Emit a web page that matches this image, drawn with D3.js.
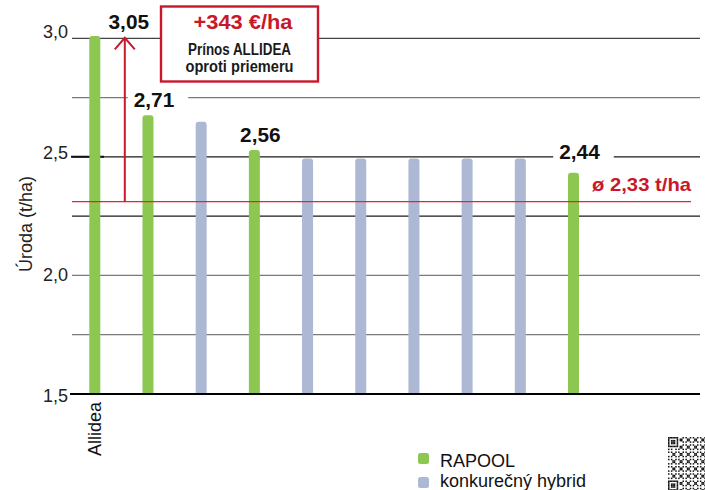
<!DOCTYPE html>
<html><head><meta charset="utf-8">
<script src="https://cdn.jsdelivr.net/npm/d3@7"></script>
<style>html,body{margin:0;padding:0;background:#fff;overflow:hidden}</style>
</head><body>
<svg id="c" width="705" height="490"></svg>
<script>
// ---- data ----
const categories = ["Allidea","RAPOOL 2","hybrid 1","RAPOOL 3","hybrid 2","hybrid 3","hybrid 4","hybrid 5","hybrid 6","RAPOOL 4"];
const seriesOf = ["RAPOOL","RAPOOL","konkurečný hybrid","RAPOOL","konkurečný hybrid","konkurečný hybrid","konkurečný hybrid","konkurečný hybrid","konkurečný hybrid","RAPOOL"];
const yields = [3.01, 2.675, 2.648, 2.529, 2.493, 2.493, 2.493, 2.493, 2.493, 2.433];
const valueLabels = ["3,05","2,71","","2,56","","","","","","2,44"];
const axisLabels = ["Allidea","","","","","","","","",""];
const yTicks = [1.5, 2.0, 2.5, 3.0];
const yTickLabels = ["1,5","2,0","2,5","3,0"];
const gridValues = [1.75, 2.0, 2.25, 2.5, 2.75, 3.0];
const average = 2.311;
const averageLabel = "ø 2,33 t/ha";
const gainLabel = "+343 €/ha";
const gainText = ["Prínos ALLIDEA", "oproti priemeru"];
const legendSeries = ["RAPOOL", "konkurečný hybrid"];
const yTitle = "Úroda (t/ha)";

// ---- styles ----
const colors = {"RAPOOL":"#8cc751", "konkurečný hybrid":"#adb8d4"};
const RED = "#c8182a", LINE_RED = "#e5242f";
const FONT = "'Liberation Sans', Arial, sans-serif";
const NARROW = "'Liberation Sans Narrow','Arial Narrow','Liberation Sans', Arial, sans-serif";

const svg = d3.select("#c");
const x = d3.scalePoint().domain(categories).range([94.8, 573.5]);
const y = d3.scaleLinear().domain([1.5, 3.0]).range([394, 38.3]);
const barW = 11, r = 3;
const gx0 = 72, gx1 = 700;

// gridlines
svg.append("g").selectAll("line").data(gridValues).join("line")
  .attr("x1", gx0).attr("x2", gx1)
  .attr("y1", d => y(d)).attr("y2", d => y(d))
  .attr("stroke", d => (d === 2.25 || d === 2.5) ? "#1a1a1a" : d === 3.0 ? "#444" : "#7a7a7a")
  .attr("stroke-width", 1.2);

// short tick dash at 2,5
svg.append("line").attr("x1", 71).attr("x2", 104).attr("y1", y(2.5)).attr("y2", y(2.5))
  .attr("stroke", "#111").attr("stroke-width", 2);

// y tick labels
svg.append("g").selectAll("text").data(yTicks).join("text")
  .attr("x", 68).attr("y", d => y(d) + (3 - d) * 5.2)
  .attr("text-anchor", "end").attr("font-family", FONT).attr("font-size", 18).attr("fill", "#222")
  .text((d, i) => yTickLabels[i]);

// y title
svg.append("text").attr("transform", `translate(31.5,224) rotate(-90)`)
  .attr("text-anchor", "middle").attr("font-family", FONT).attr("font-size", 18).attr("fill", "#222")
  .text(yTitle);

// bars
function barPath(cx, v) {
  const x0 = cx - barW / 2, y0 = y(v), yb = y(1.5);
  return `M${x0},${yb}V${y0 + r}Q${x0},${y0} ${x0 + r},${y0}H${x0 + barW - r}Q${x0 + barW},${y0} ${x0 + barW},${y0 + r}V${yb}Z`;
}
svg.append("g").selectAll("path").data(categories).join("path")
  .attr("d", (c, i) => barPath(x(c), yields[i]))
  .attr("fill", (c, i) => colors[seriesOf[i]]);

// baseline axis
svg.append("line").attr("x1", 70).attr("x2", 700).attr("y1", y(1.5)).attr("y2", y(1.5))
  .attr("stroke", "#000").attr("stroke-width", 2);

// x category labels
svg.append("g").selectAll("text").data(categories).join("text")
  .attr("transform", c => `translate(${x(c) + 6},402) rotate(-90)`)
  .attr("text-anchor", "end").attr("font-family", FONT).attr("font-size", 18).attr("fill", "#111")
  .text((c, i) => axisLabels[i]);

// average line
svg.append("line").attr("x1", gx0).attr("x2", 691).attr("y1", y(average)).attr("y2", y(average))
  .attr("stroke", LINE_RED).attr("stroke-width", 1.3);
svg.append("text").attr("x", 691).attr("y", y(average) - 11)
  .attr("text-anchor", "end").attr("font-family", NARROW).attr("font-weight", "bold")
  .attr("font-size", 19).attr("fill", RED)
  .attr("textLength", 99).attr("lengthAdjust", "spacingAndGlyphs")
  .text(averageLabel);

// arrow from average to Allidea level
const ax = x(categories[0]) + 30;
svg.append("line").attr("x1", ax).attr("x2", ax).attr("y1", y(average)).attr("y2", y(3.0))
  .attr("stroke", RED).attr("stroke-width", 2);
svg.append("path").attr("d", `M${ax - 10},${y(3.0) + 11}L${ax},${y(3.0) - 0.5}L${ax + 10},${y(3.0) + 11}`)
  .attr("fill", "none").attr("stroke", RED).attr("stroke-width", 2);

// value labels with knockouts
const lbl = svg.append("g");
categories.forEach((c, i) => {
  if (!valueLabels[i]) return;
  const cx = i === 0 ? ax + 4 : x(c) + 6;
  const by = i === 0 ? y(yields[i]) - 7 : Math.min(y(yields[i]) - 8, y(2.5) + 2);
  const w = 40.5;
  lbl.append("rect").attr("x", cx - w / 2 - 6).attr("y", by - 16).attr("width", w + 20).attr("height", 20)
    .attr("fill", "#fff");
  lbl.append("text").attr("x", cx).attr("y", by).attr("text-anchor", "middle")
    .attr("font-family", FONT).attr("font-weight", "bold").attr("font-size", 19.5).attr("fill", "#111")
    .attr("textLength", w).attr("lengthAdjust", "spacingAndGlyphs")
    .text(valueLabels[i]);
});

// annotation box
const box = svg.append("g");
box.append("rect").attr("x", 161).attr("y", 6.5).attr("width", 157).attr("height", 75)
  .attr("fill", "#fff").attr("stroke", RED).attr("stroke-width", 2.4);
box.append("text").attr("x", 243).attr("y", 28.5).attr("text-anchor", "middle")
  .attr("font-family", NARROW).attr("font-weight", "bold").attr("font-size", 19.5).attr("fill", RED)
  .attr("textLength", 99).attr("lengthAdjust", "spacingAndGlyphs").text(gainLabel);
const widths = [103, 108];
gainText.forEach((t, i) => {
  box.append("text").attr("x", 239.5).attr("y", 55 + i * 16.7).attr("text-anchor", "middle")
    .attr("font-family", NARROW).attr("font-weight", "bold").attr("font-size", 16).attr("fill", "#1a1a1a")
    .attr("textLength", widths[i]).attr("lengthAdjust", "spacingAndGlyphs").text(t);
});

// legend
const leg = svg.append("g").selectAll("g").data(legendSeries).join("g");
leg.append("rect").attr("x", 418).attr("y", (d, i) => 453 + i * 24)
  .attr("width", 11).attr("height", 11).attr("rx", 2.5).attr("fill", d => colors[d]);
leg.append("text").attr("x", 440).attr("y", (d, i) => 466.5 + i * 20.5)
  .attr("font-family", FONT).attr("font-size", 18).attr("fill", "#111").text(d => d);

// QR-like code decoration (bottom right)
const qr = svg.append("g").attr("transform", "translate(668,437)");
const m = 1.45, N = 37;
function finder(i, j) {
  const inF = (a, b) => a >= 0 && a < 7 && b >= 0 && b < 7;
  const pats = [[0,0],[0,N-7],[N-7,0]];
  for (const [pi, pj] of pats) {
    const a = i - pi, b = j - pj;
    if (inF(a, b)) {
      const d = Math.max(Math.abs(a - 3), Math.abs(b - 3));
      return d === 3 || d <= 1 ? 1 : 0;
    }
    if (a >= -1 && a <= 7 && b >= -1 && b <= 7) return 0;
  }
  return null;
}
const cells = [];
for (let i = 0; i < N; i++) for (let j = 0; j < N; j++) {
  let f = finder(i, j);
  if (f === null) f = ((i * 7 + j * 13 + i * j * 3) % 5) < 2 ? 1 : 0;
  if (f) cells.push([i, j]);
}
qr.selectAll("rect").data(cells).join("rect")
  .attr("x", d => d[1] * m).attr("y", d => d[0] * m).attr("width", m + 0.05).attr("height", m + 0.05)
  .attr("fill", "#111");
</script>
</body></html>
